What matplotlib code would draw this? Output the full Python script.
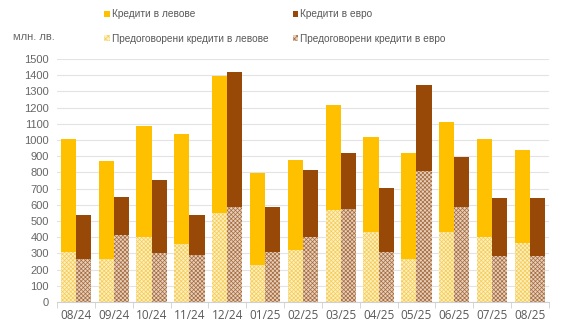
import matplotlib
matplotlib.use("Agg")
import matplotlib.pyplot as plt
import numpy as np
from matplotlib.patches import Patch

plt.rcParams["font.family"] = ["Liberation Sans", "DejaVu Sans"]
plt.rcParams["hatch.linewidth"] = 0.5

months = ["08/24", "09/24", "10/24", "11/24", "12/24", "01/25", "02/25",
          "03/25", "04/25", "05/25", "06/25", "07/25", "08/25"]

# предоговорени (долна част) и общо за месеца, млн. лв.
lev_pre = [311, 263, 403, 358, 547, 226, 319, 570, 434, 263, 434, 399, 366]
lev_total = [1008, 872, 1088, 1037, 1397, 794, 877, 1214, 1019, 918, 1113, 1006, 940]
eur_pre = [267, 411, 305, 288, 588, 311, 399, 576, 311, 807, 588, 286, 286]
eur_total = [535, 648, 753, 535, 1420, 588, 813, 918, 706, 1340, 895, 642, 642]

lev_new = [t - p for t, p in zip(lev_total, lev_pre)]
eur_new = [t - p for t, p in zip(eur_total, eur_pre)]

YELLOW = "#FFC000"
BROWN = "#984807"
LEV_PRE_FC = "#FCEFC0"
LEV_PRE_HC = "#F6CC55"
EUR_PRE_FC = "#E6D0BC"
EUR_PRE_HC = "#A66A3C"

fig = plt.figure(figsize=(5.82, 3.29), dpi=100)
ax = fig.add_axes([0.098, 0.082, 0.845, 0.739])

x = np.arange(len(months))
w = 0.4

ax.bar(x - w / 2, lev_pre, w, color=LEV_PRE_FC, edgecolor=LEV_PRE_HC, hatch="xxxxxxxx", lw=0, zorder=2)
ax.bar(x - w / 2, lev_new, w, bottom=lev_pre, color=YELLOW, lw=0, zorder=2)
ax.bar(x + w / 2, eur_pre, w, color=EUR_PRE_FC, edgecolor=EUR_PRE_HC, hatch="xxxxxxxx", lw=0, zorder=2)
ax.bar(x + w / 2, eur_new, w, bottom=eur_pre, color=BROWN, lw=0, zorder=2)

ax.set_xlim(-0.5, len(months) - 0.5)
ax.set_ylim(0, 1500)
ax.set_yticks(range(0, 1501, 100))
ax.yaxis.grid(True, color="#E3E3E3", lw=0.8, zorder=0)
ax.set_axisbelow(True)

for s in ["top", "right", "left"]:
    ax.spines[s].set_visible(False)
ax.spines["bottom"].set_color("#D0D0D0")

ax.set_xticks(x)
ax.set_xticklabels(months, fontsize=8.5, color="#595959",
                   family=["Open Sans", "DejaVu Sans"])
ax.set_xticks(np.arange(-0.5, len(months)), minor=True)
ax.tick_params(axis="x", which="major", length=0, pad=5)
ax.tick_params(axis="x", which="minor", length=4, color="#D0D0D0")
ax.tick_params(axis="y", length=0, labelsize=8, labelcolor="#666666", pad=6)

fig.text(0.022, 0.877, "млн. лв.", fontsize=8, color="#666666")

handles = [
    Patch(facecolor=YELLOW, lw=0),
    Patch(facecolor=LEV_PRE_FC, edgecolor=LEV_PRE_HC, hatch="xxxxxx", lw=0),
    Patch(facecolor=BROWN, lw=0),
    Patch(facecolor=EUR_PRE_FC, edgecolor=EUR_PRE_HC, hatch="xxxxxx", lw=0),
]
labels = ["Кредити в левове", "Предоговорени кредити в левове",
          "Кредити в евро", "Предоговорени кредити в евро"]
fig.legend(handles, labels, ncol=2, loc="upper left", bbox_to_anchor=(0.163, 0.999),
           frameon=False, fontsize=7.3, labelcolor="#595959",
           handlelength=0.55, handleheight=0.55, handletextpad=0.2,
           columnspacing=2.4, labelspacing=1.4)

fig.savefig("out.png", dpi=100)
